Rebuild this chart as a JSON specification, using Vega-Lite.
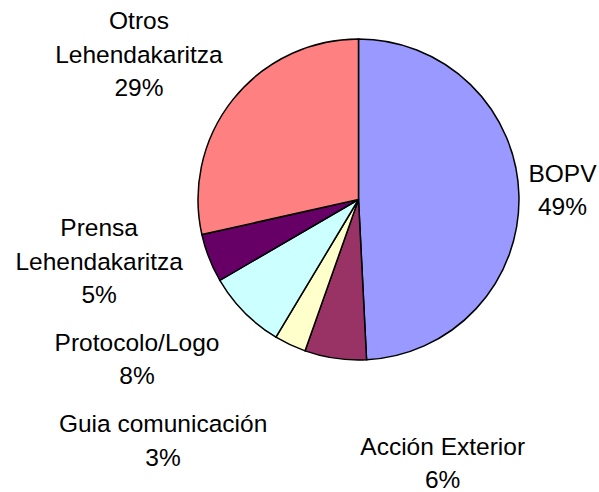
{
  "$schema": "https://vega.github.io/schema/vega-lite/v6.json",
  "width": 321,
  "height": 321,
  "autosize": {"type": "none"},
  "padding": {"left": 198, "top": 39, "right": 80, "bottom": 132},
  "background": "white",
  "config": {"view": {"stroke": null}},
  "data": {
    "values": [
      {"name": "BOPV", "value": 49.2, "order": 1, "label": "BOPV\n49%"},
      {"name": "Acción Exterior", "value": 6.2, "order": 2, "label": "Acción Exterior\n6%"},
      {"name": "Guia comunicación", "value": 3.2, "order": 3, "label": "Guia comunicación\n3%"},
      {"name": "Protocolo/Logo", "value": 8.0, "order": 4, "label": "Protocolo/Logo\n8%"},
      {"name": "Prensa Lehendakaritza", "value": 4.9, "order": 5, "label": "Prensa\nLehendakaritza\n5%"},
      {"name": "Otros Lehendakaritza", "value": 28.5, "order": 6, "label": "Otros\nLehendakaritza\n29%"}
    ]
  },
  "encoding": {
    "theta": {"field": "value", "type": "quantitative", "stack": true},
    "order": {"field": "order", "type": "quantitative"}
  },
  "layer": [
    {
      "mark": {"type": "arc", "outerRadius": 160.5, "stroke": "black", "strokeWidth": 1.5},
      "encoding": {
        "color": {
          "field": "name",
          "type": "nominal",
          "scale": {
            "domain": ["BOPV", "Acción Exterior", "Guia comunicación", "Protocolo/Logo", "Prensa Lehendakaritza", "Otros Lehendakaritza"],
            "range": ["#9999FF", "#993366", "#FFFFCC", "#CCFFFF", "#660066", "#FF8080"]
          },
          "legend": null
        }
      }
    },
    {
      "mark": {"type": "text", "radius": 204, "dy": -19.5, "font": "Liberation Sans", "fontSize": 24.5, "lineBreak": "\n", "lineHeight": 33.5, "align": "center", "baseline": "middle", "color": "black"},
      "encoding": {"text": {"condition": {"test": "datum.name === 'BOPV'", "field": "label"}, "value": ""}}
    },
    {
      "mark": {"type": "text", "radius": 278.6, "dx": 124.3, "dy": -27.3, "font": "Liberation Sans", "fontSize": 24.5, "lineBreak": "\n", "lineHeight": 33.5, "align": "center", "baseline": "middle", "color": "black"},
      "encoding": {"text": {"condition": {"test": "datum.name === 'Acción Exterior'", "field": "label"}, "value": ""}}
    },
    {
      "mark": {"type": "text", "radius": 311.5, "dx": -62.8, "dy": -56.1, "font": "Liberation Sans", "fontSize": 24.5, "lineBreak": "\n", "lineHeight": 33.5, "align": "center", "baseline": "middle", "color": "black"},
      "encoding": {"text": {"condition": {"test": "datum.name === 'Guia comunicación'", "field": "label"}, "value": ""}}
    },
    {
      "mark": {"type": "text", "radius": 273.8, "dx": -26.7, "dy": -48, "font": "Liberation Sans", "fontSize": 24.5, "lineBreak": "\n", "lineHeight": 33.5, "align": "center", "baseline": "middle", "color": "black"},
      "encoding": {"text": {"condition": {"test": "datum.name === 'Protocolo/Logo'", "field": "label"}, "value": ""}}
    },
    {
      "mark": {"type": "text", "radius": 267.2, "dx": -10.6, "dy": -67.6, "font": "Liberation Sans", "fontSize": 24.5, "lineBreak": "\n", "lineHeight": 33.5, "align": "center", "baseline": "middle", "color": "black"},
      "encoding": {"text": {"condition": {"test": "datum.name === 'Prensa Lehendakaritza'", "field": "label"}, "value": ""}}
    },
    {
      "mark": {"type": "text", "radius": 262.2, "dx": -14.9, "dy": -13.1, "font": "Liberation Sans", "fontSize": 24.5, "lineBreak": "\n", "lineHeight": 33.5, "align": "center", "baseline": "middle", "color": "black"},
      "encoding": {"text": {"condition": {"test": "datum.name === 'Otros Lehendakaritza'", "field": "label"}, "value": ""}}
    }
  ]
}
